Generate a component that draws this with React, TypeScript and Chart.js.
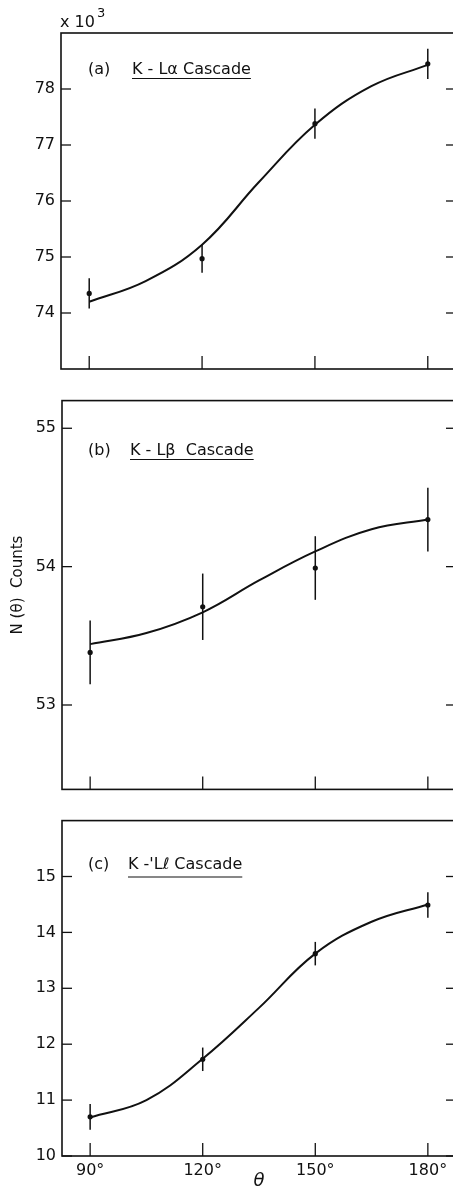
import React, { useEffect, useRef } from "react";
import { Chart, registerables } from "chart.js";

Chart.register(...registerables);

// ---------- data ----------
const ANGLES = [90, 120, 150, 180];
const FIT_ANGLES = [90, 105, 120, 135, 150, 165, 180];
const X_TICKS = [90, 120, 150, 180];

const A_COUNTS = [74.35, 74.97, 77.38, 78.45];
const A_ERRORS = [0.27, 0.25, 0.27, 0.27];
const A_FIT = [74.2, 74.57, 75.22, 76.33, 77.36, 78.05, 78.43];
const A_Y_TICKS = [74, 75, 76, 77, 78];

const B_COUNTS = [53.38, 53.71, 53.99, 54.34];
const B_ERRORS = [0.23, 0.24, 0.23, 0.23];
const B_FIT = [53.44, 53.52, 53.67, 53.9, 54.11, 54.27, 54.34];
const B_Y_TICKS = [53, 54, 55];

const C_COUNTS = [10.7, 11.73, 13.62, 14.49];
const C_ERRORS = [0.23, 0.21, 0.21, 0.23];
const C_FIT = [10.69, 11.0, 11.74, 12.65, 13.62, 14.19, 14.5];
const C_Y_TICKS = [10, 11, 12, 13, 14, 15];

const TAGS = ["(a)", "(b)", "(c)"];
const NAMES = ["K - L\u03b1 Cascade", "K - L\u03b2  Cascade", "K -'L\u2113 Cascade"];
const Y_TITLE = "N (\u03b8)  Counts";
const X_TITLE = "\u03b8";
const SCALE_NOTE = "x 10";
const SCALE_EXP = "3";

// ---------- layout ----------
const INK = "#111";
const FONT = "'DejaVu Sans', sans-serif";
const CANVAS_W = 470;
const PLOT_RIGHT = 456;

type PanelCfg = {
  top: number;
  height: number;
  areaTop: number;
  areaBottom: number;
  areaLeft: number;
  yMin: number;
  yMax: number;
  yTicks: number[];
  counts: number[];
  errors: number[];
  fit: number[];
  tag: string;
  name: string;
  nameX: number;
  textY: number;
  underlineY: number;
  xLabels: boolean;
  scaleNote: boolean;
  yTitle: boolean;
};

const PANELS: PanelCfg[] = [
  {
    top: 0, height: 385, areaTop: 33, areaBottom: 369, areaLeft: 61,
    yMin: 73, yMax: 79, yTicks: A_Y_TICKS, counts: A_COUNTS, errors: A_ERRORS, fit: A_FIT,
    tag: TAGS[0], name: NAMES[0], nameX: 132, textY: 74, underlineY: 78.5,
    xLabels: false, scaleNote: true, yTitle: false,
  },
  {
    top: 385, height: 420, areaTop: 12, areaBottom: 407, areaLeft: 62,
    yMin: 52.39, yMax: 55.2, yTicks: B_Y_TICKS, counts: B_COUNTS, errors: B_ERRORS, fit: B_FIT,
    tag: TAGS[1], name: NAMES[1], nameX: 130, textY: 455 - 385, underlineY: 459.5 - 385,
    xLabels: false, scaleNote: false, yTitle: true,
  },
  {
    top: 805, height: 383, areaTop: 14, areaBottom: 351, areaLeft: 62,
    yMin: 10, yMax: 16, yTicks: C_Y_TICKS, counts: C_COUNTS, errors: C_ERRORS, fit: C_FIT,
    tag: TAGS[2], name: NAMES[2], nameX: 128, textY: 869 - 805, underlineY: 877 - 805,
    xLabels: true, scaleNote: false, yTitle: false,
  },
];

function line(ctx: CanvasRenderingContext2D, x1: number, y1: number, x2: number, y2: number) {
  ctx.beginPath();
  ctx.moveTo(x1, y1);
  ctx.lineTo(x2, y2);
  ctx.stroke();
}

function Panel({ cfg }: { cfg: PanelCfg }) {
  const ref = useRef<HTMLCanvasElement | null>(null);

  useEffect(() => {
    const canvas = ref.current;
    if (!canvas) return;

    const framePlugin = {
      id: "frame" + cfg.tag,
      afterDatasetsDraw(chart: any) {
        const { ctx, chartArea: ca, scales } = chart;
        const xs = scales.x;
        const ys = scales.y;
        ctx.save();
        ctx.strokeStyle = INK;
        ctx.fillStyle = INK;
        ctx.lineCap = "butt";

        // frame
        ctx.lineWidth = 1.6;
        ctx.strokeRect(ca.left, ca.top, ca.right - ca.left, ca.bottom - ca.top);

        // inward ticks
        ctx.lineWidth = 1.3;
        cfg.yTicks.forEach((v) => {
          const py = ys.getPixelForValue(v);
          line(ctx, ca.left, py, ca.left + 10, py);
          line(ctx, ca.right - 10, py, ca.right, py);
        });
        X_TICKS.forEach((v) => {
          const px = xs.getPixelForValue(v);
          line(ctx, px, ca.bottom, px, ca.bottom - 13);
        });

        // error bars
        ctx.lineWidth = 1.5;
        cfg.counts.forEach((c, i) => {
          const px = xs.getPixelForValue(ANGLES[i]);
          const e = cfg.errors[i];
          line(ctx, px, ys.getPixelForValue(c - e), px, ys.getPixelForValue(c + e));
        });

        // panel label
        ctx.font = `16px ${FONT}`;
        ctx.textBaseline = "alphabetic";
        ctx.textAlign = "left";
        ctx.fillText(cfg.tag, 88, cfg.textY);
        ctx.fillText(cfg.name, cfg.nameX, cfg.textY);
        const w = ctx.measureText(cfg.name).width;
        ctx.lineWidth = 1.2;
        line(ctx, cfg.nameX, cfg.underlineY, cfg.nameX + w, cfg.underlineY);

        if (cfg.scaleNote) {
          ctx.font = `16px ${FONT}`;
          ctx.fillText(SCALE_NOTE, 60, 27);
          const w2 = ctx.measureText(SCALE_NOTE).width;
          ctx.font = `13px ${FONT}`;
          ctx.fillText(SCALE_EXP, 60 + w2 + 2, 17);
        }

        if (cfg.yTitle) {
          ctx.save();
          ctx.translate(18, 200);
          ctx.rotate(-Math.PI / 2);
          ctx.font = `15px ${FONT}`;
          ctx.textAlign = "center";
          ctx.textBaseline = "middle";
          ctx.fillText(Y_TITLE, 0, 0);
          ctx.restore();
        }

        if (cfg.xLabels) {
          ctx.font = `italic 18px ${FONT}`;
          ctx.textAlign = "center";
          ctx.textBaseline = "middle";
          ctx.fillText(X_TITLE, xs.getPixelForValue(135), cfg.height - 7);
        }
        ctx.restore();
      },
    };

    const chart = new Chart(canvas, {
      type: "scatter",
      data: {
        datasets: [
          {
            label: "fit",
            data: FIT_ANGLES.map((a, i) => ({ x: a, y: cfg.fit[i] })),
            showLine: true,
            borderColor: INK,
            borderWidth: 2,
            pointRadius: 0,
            tension: 0.4,
            fill: false,
          } as any,
          {
            label: "counts",
            data: ANGLES.map((a, i) => ({ x: a, y: cfg.counts[i] })),
            pointRadius: 2.6,
            pointBackgroundColor: INK,
            pointBorderWidth: 0,
            borderColor: INK,
          },
        ],
      },
      options: {
        animation: false,
        responsive: false,
        devicePixelRatio: 1,
        layout: {
          padding: { top: cfg.areaTop, right: CANVAS_W - PLOT_RIGHT, left: 0, bottom: 0 },
        },
        plugins: {
          legend: { display: false },
          tooltip: { enabled: false },
        },
        scales: {
          x: {
            type: "linear",
            min: 82.5,
            max: 187.5,
            grid: { display: false, drawTicks: false },
            border: { display: false },
            afterBuildTicks: (s: any) => {
              s.ticks = X_TICKS.map((v) => ({ value: v }));
            },
            afterFit: (s: any) => {
              s.height = cfg.height - cfg.areaBottom;
            },
            ticks: {
              display: cfg.xLabels,
              color: INK,
              padding: 5,
              maxRotation: 0,
              autoSkip: false,
              font: { family: FONT, size: 16 },
              callback: (v: any) => `${v}\u00b0`,
            },
          },
          y: {
            type: "linear",
            min: cfg.yMin,
            max: cfg.yMax,
            grid: { display: false, drawTicks: false },
            border: { display: false },
            afterBuildTicks: (s: any) => {
              s.ticks = cfg.yTicks.map((v) => ({ value: v }));
            },
            afterFit: (s: any) => {
              s.width = cfg.areaLeft;
            },
            ticks: {
              color: INK,
              padding: 6,
              autoSkip: false,
              font: { family: FONT, size: 16 },
              callback: (v: any) => String(v),
            },
          },
        },
      },
      plugins: [framePlugin],
    });

    return () => chart.destroy();
  }, [cfg]);

  return (
    <canvas
      ref={ref}
      width={CANVAS_W}
      height={cfg.height}
      style={{ position: "absolute", left: 0, top: cfg.top, width: CANVAS_W, height: cfg.height, display: "block" }}
    />
  );
}

export default function App() {
  return (
    <div
      style={{
        position: "absolute",
        left: 0,
        top: 0,
        width: 453,
        height: 1188,
        overflow: "hidden",
        background: "#fff",
      }}
    >
      {PANELS.map((p) => (
        <Panel key={p.tag} cfg={p} />
      ))}
    </div>
  );
}
